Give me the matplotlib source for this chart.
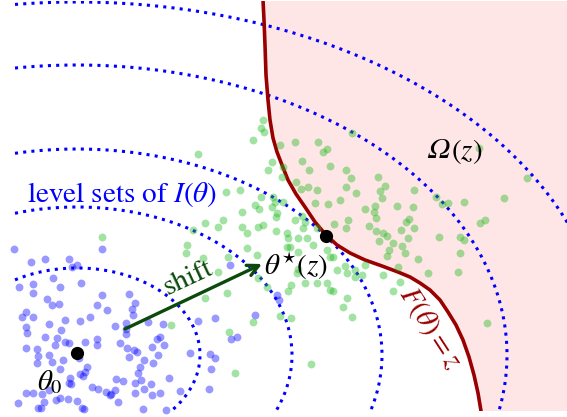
import numpy as np
import matplotlib
matplotlib.use("Agg")
import matplotlib.pyplot as plt
from matplotlib.offsetbox import TextArea, HPacker, AnnotationBbox

plt.rcParams['mathtext.fontset'] = 'stix'
plt.rcParams['font.family'] = ['STIXGeneral', 'DejaVu Serif']

# ---------------- data (theta-space units) ----------------
theta0 = (0, 0)
theta_star = (249, 119)

# level sets of I(theta): semi-axes of the elliptical contours
level_a = [123, 215, 305, 430, 529]
level_b = [87, 148, 206, 290, 353]
arc_start_x = -62

# boundary F(theta) = z
boundary_x = [186, 187, 188, 189, 191, 193, 196, 200, 205, 211, 219, 228, 238, 249,
              260, 273, 288, 305, 321, 333, 343, 353, 363, 371, 379, 386, 392, 397,
              401, 404, 405]
boundary_y = [355, 335, 310, 280, 255, 235, 217, 203, 190, 175, 161, 148, 133, 120,
              110, 102, 95, 89, 83, 78, 72, 65, 55, 43, 30, 15, -2, -20,
              -38, -56, -65]

# samples around theta0
blue_x = [-63, 25, -46, -32, -8, 0, -5, 4, -44, -24, -58, -17, -44, 25, -30, -25, -18, 20,
          30, 52, 58, 55, 56, -51, -44, -55, -28, -51, -50, -12, 3, 13, -16, 38, 49, 49,
          -32, -20, 20, 49, 71, 86, 153, 154, 160, 138, 121, 113, 133, 138, 134, -51, -40,
          -22, -12, -8, 8, 20, 43, 50, 57, 60, 75, 80, 83, 87, 81, -39, -28, -14, 52, 67,
          76, 63, -40, -25, -17, 2, 10, 6, 3, 8, -7, -6, 39, 46, 61, 58, 64, 74, 92, 75,
          83, 58, 67, 21, 15, 29, 34, 38, 41, 0, -9, 5, 7, -21, -28, -35, -44, -51, -59,
          -39, -33, -36, 66, 89, 103, 132, -8, -17, 33, 178, 200, 202]
blue_y = [106, 106, 93, 96, 96, 90, 88, 72, 71, 77, 68, 68, 62, 60, 56, 50, 51, 50,
          45, 61, 52, 46, 40, 43, 38, 38, 31, 28, 22, 35, 34, 38, 25, 29, 32, 21,
          18, 17, 16, 26, 33, 31, 90, 16, 18, 37, 34, 2, 1, -3, -14, 7, 6,
          10, 13, 12, 13, 10, 12, 7, 5, 3, 8, 16, 18, 10, 0, -1, 0, -5, -2, -5,
          -8, -12, -8, -7, -14, -3, -12, -21, -19, -17, -23, -29, -24, -26, -18, -28, -25, -29, -23, -40,
          -38, -38, -34, -34, -32, -37, -39, -35, -47, -46, -44, -53, -54, -45, -35, -39, -38, -38, -48,
          -53, -47, -53, -54, -55, -36, -34, -28, -43, -40, 40, 60, 55]

# samples around theta*(z)
green_x = [186, 184, 187, 176, 121, 203, 218, 241, 250, 246, 225, 195, 191, 206, 232, 253,
           269, 219, 205, 224, 231, 240, 269, 149, 163, 184, 178, 182, 195, 198, 200, 199,
           196, 206, 238, 251, 263, 165, 146, 128, 141, 165, 170, 181, 186, 199, 210, 211,
           221, 226, 228, 225, 218, 230, 240, 269, 271, 116, 110, 109, 170, 180, 210, 213,
           221, 236, 250, 253, 256, 126, 151,
           275, 402, 450, 427, 274, 279, 301, 308, 303, 305, 337, 288, 298, 320, 336, 359,
           365, 371, 387, 297, 299, 257, 292, 299, 306, 310, 324, 329, 332, 337, 302, 316,
           325, 328, 312, 310, 331, 362, 383, 387, 383, 403, 408, 341,
           141, 150, 128, 181, 190, 214, 211, 220, 228, 221, 240, 250, 256, 253, 260, 270,
           278, 285, 278, 268, 288, 306, 321, 323, 316, 351, 381, 266, 275, 203, 214, 176,
           234, 410, 152, 25, 94, 158, 270]
green_y = [235, 227, 223, 215, 201, 210, 213, 213, 206, 203, 194, 193, 185, 188, 185, 189,
           185, 173, 178, 166, 168, 165, 168, 163, 165, 158, 150, 146, 148, 153, 142, 138,
           158, 153, 152, 151, 155, 143, 135, 132, 128, 128, 122, 128, 130, 124, 122, 117,
           117, 127, 133, 139, 135, 117, 127, 127, 135, 125, 110, 102, 107, 100, 108, 108,
           103, 110, 105, 98, 98, 97, 98,
           222, 207, 177, 157, 177, 162, 178, 169, 164, 157, 165, 146, 149, 149, 148, 158,
           151, 152, 153, 143, 137, 131, 129, 124, 122, 119, 125, 133, 136, 127, 114, 112,
           109, 102, 105, 99, 117, 118, 118, 115, 102, 132, 135, 96,
           83, 62, 57, 77, 68, 70, 64, 82, 72, 86, 72, 72, 64, 65, 85, 82,
           85, 80, 78, 89, 90, 80, 88, 73, 64, 82, 83, 48, 38, 39, 37, 33,
           -9, 32, 23, 118, 30, -18, 57]

# ---------------- figure ----------------
fig = plt.figure(figsize=(5.67, 4.17), dpi=100)
ax = fig.add_axes([0, 6 / 417, 1, 410 / 417])
ax.set_xlim(-77, 490)
ax.set_ylim(-56, 354)
ax.axis('off')

bx = np.array(boundary_x, float)
by = np.array(boundary_y, float)
ax.fill_betweenx(by, bx, 600, color='#ffe6e6', lw=0, zorder=0)

for a, b in zip(level_a, level_b):
    t0 = np.arccos(arc_start_x / a)
    t = np.linspace(t0, -np.pi / 2, 600)
    ax.plot(a * np.cos(t) + theta0[0], b * np.sin(t) + theta0[1], color='#0000ff',
            lw=2.2, linestyle=(0, (1, 1.7)), dash_capstyle='butt', zorder=1)

ax.plot(bx, by, color='#990000', lw=2.6, zorder=2, solid_capstyle='butt')

ax.scatter(blue_x, blue_y, s=32, color='#0000ff', alpha=0.4, lw=0, zorder=3, clip_on=False)
ax.scatter(green_x, green_y, s=32, color='#22bb22', alpha=0.42, lw=0, zorder=3, clip_on=False)

ax.annotate('', xy=(185, 91), xytext=(48, 26),
            arrowprops=dict(arrowstyle='->', color='#0b4a0b', lw=2.4, mutation_scale=20,
                            shrinkA=0, shrinkB=0), zorder=4)

ax.plot([theta0[0]], [theta0[1] + 2], 'o', color='black', ms=8.5, zorder=5)
ax.plot([theta_star[0]], [theta_star[1]], 'o', color='black', ms=8.5, zorder=5)

fs = 21
ax.text(-50, 153, r'level sets of $I(\theta)$', color='#0000ff', fontsize=fs,
        ha='left', va='baseline', zorder=6)

# Omega(z) with an italic capital Omega
om = TextArea('\u03A9', textprops=dict(color='black', fontsize=fs, fontstyle='italic',
                                       family='STIXGeneral'))
rest = TextArea(r'$(z)$', textprops=dict(color='black', fontsize=fs))
pack = HPacker(children=[om, rest], align='baseline', pad=0, sep=1)
ab = AnnotationBbox(pack, (378, 204), xycoords='data', frameon=False, box_alignment=(0.5, 0.5),
                    zorder=6)
ax.add_artist(ab)

ax.text(187, 90, r'$\theta^{\star}(z)$', color='black', fontsize=fs, ha='left', va='center', zorder=6)
ax.text(-27, -27, r'$\theta_0$', color='black', fontsize=fs, ha='center', va='center', zorder=6)
ax.text(111, 77, 'shift', color='#0b4a0b', fontsize=fs, ha='center', va='center',
        rotation=25, rotation_mode='anchor', zorder=6)
ax.text(353, 27, r'$F(\theta) = z$', color='#990000', fontsize=fs, ha='center', va='center',
        rotation=-57, rotation_mode='anchor', zorder=6)

fig.savefig('out.png', dpi=100)
